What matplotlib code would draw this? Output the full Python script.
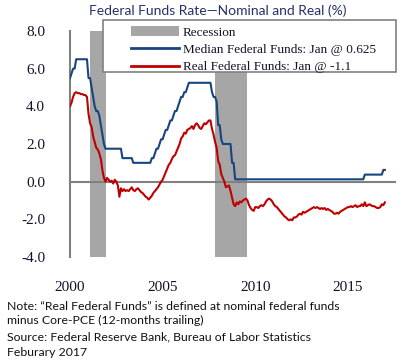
import numpy as np
import matplotlib
matplotlib.use("Agg")
import matplotlib.pyplot as plt
from matplotlib.patches import Patch, Rectangle
from matplotlib.lines import Line2D

# monthly data, Jan 2000 .. Jan 2017
start_year = 2000
median_ff = (
    [5.5, 5.75, 6.0, 6.0, 6.5, 6.5, 6.5, 6.5, 6.5, 6.5, 6.5, 6.5] +
    [5.5, 5.5, 5.0, 4.5, 4.0, 3.75, 3.75, 3.5, 3.0, 2.5, 2.0, 1.75] +
    [1.75] * 10 + [1.25, 1.25] +
    [1.25] * 5 + [1.0] * 7 +
    [1.0] * 5 + [1.25, 1.25, 1.5, 1.75, 1.75, 2.0, 2.25] +
    [2.25, 2.5, 2.75, 2.75, 3.0, 3.25, 3.25, 3.5, 3.75, 3.75, 4.0, 4.25] +
    [4.5, 4.5, 4.75, 4.75, 5.0, 5.25] + [5.25] * 6 +
    [5.25] * 8 + [4.75, 4.5, 4.5, 4.25] +
    [3.0, 3.0, 2.25, 2.0, 2.0, 2.0, 2.0, 2.0, 2.0, 1.0, 1.0, 0.125] +
    [0.125] * 83 + [0.375] +
    [0.375] * 11 + [0.625] +
    [0.625]
)
real_ff = [
    4.0, 4.2, 4.5, 4.7, 4.75, 4.7, 4.7, 4.65, 4.65, 4.6, 4.6, 4.5,
    3.6, 3.1, 2.9, 2.4, 2.1, 1.8, 1.7, 1.5, 1.2, 0.6, 0.2, 0.0,
    0.2, 0.1, 0.0, 0.05, -0.1, 0.1, 0.0, -0.2, -0.8, -0.35, -0.5, -0.4,
    -0.5, -0.45, -0.5, -0.4, -0.3, -0.45, -0.5, -0.4, -0.35, -0.45, -0.55, -0.6,
    -0.7, -0.8, -0.85, -0.95, -0.85, -0.75, -0.6, -0.5, -0.4, -0.3, -0.15, 0.0,
    0.1, 0.3, 0.5, 0.7, 0.9, 1.0, 1.2, 1.35, 1.4, 1.6, 1.8, 2.0,
    2.3, 2.4, 2.6, 2.55, 2.75, 2.8, 2.85, 2.95, 2.8, 3.0, 3.1, 3.0,
    2.85, 2.8, 2.95, 3.1, 3.05, 3.15, 3.25, 3.25, 2.8, 2.5, 2.1, 1.8,
    1.1, 0.9, 0.4, 0.2, 0.0, -0.3, -0.25, -0.2, -0.5, -0.85, -1.2, -1.3,
    -1.1, -1.2, -1.05, -1.1, -1.0, -0.95, -0.9, -1.0, -1.25, -1.4, -1.5, -1.55,
    -1.35, -1.35, -1.4, -1.3, -1.25, -1.3, -1.2, -1.05, -0.95, -0.9, -0.95, -1.05,
    -1.2, -1.3, -1.35, -1.45, -1.55, -1.65, -1.75, -1.85, -1.9, -2.0, -2.05, -2.0,
    -2.05, -1.9, -1.9, -1.85, -1.75, -1.7, -1.75, -1.6, -1.65, -1.6, -1.55, -1.5,
    -1.45, -1.4, -1.35, -1.4, -1.35, -1.4, -1.45, -1.4, -1.45, -1.4, -1.5, -1.45,
    -1.5, -1.55, -1.6, -1.7, -1.7, -1.65, -1.7, -1.6, -1.55, -1.5, -1.45, -1.4,
    -1.35, -1.35, -1.3, -1.35, -1.3, -1.25, -1.35, -1.3, -1.3, -1.2, -1.3, -1.1,
    -1.3, -1.25, -1.2, -1.25, -1.3, -1.3, -1.35, -1.4, -1.4, -1.35, -1.2, -1.25,
    -1.1,
]
recessions = [(2001.1, 2001.95), (2007.84, 2009.57)]
yticks = [-4, -2, 0, 2, 4, 6, 8]
xticks = [2000, 2005, 2010, 2015]

dates = start_year + np.arange(len(real_ff)) / 12.0

navy = "#17457f"
red = "#c00000"
gray = "#a6a6a6"
axis_gray = "#808080"
serif = "Liberation Serif"
ink = "#12122a"

fig = plt.figure(figsize=(4.06, 3.64), dpi=100)
ax = fig.add_axes([70 / 406, 1 - 257 / 364, 326 / 406, 226 / 364])

for a, b in recessions:
    ax.axvspan(a, b, color=gray, lw=0, zorder=1)
ax.axhline(0, color=axis_gray, lw=1.5, zorder=2)
ax.plot(dates, median_ff, color=navy, lw=1.5, zorder=3)
ax.plot(dates, real_ff, color=red, lw=1.5, zorder=3)

ax.set_xlim(2000, 2017.6)
ax.set_ylim(-4, 8)
ax.set_yticks(yticks, ["%.1f" % v for v in yticks])
ax.set_xticks(xticks, [str(v) for v in xticks])
ax.tick_params(labelfontfamily=serif, labelsize=11, labelcolor=ink, length=0)
ax.tick_params(axis="y", pad=18)
ax.tick_params(axis="x", pad=17)
for s in ["top", "right", "bottom"]:
    ax.spines[s].set_visible(False)
ax.spines["left"].set_color(axis_gray)
ax.spines["left"].set_linewidth(1.5)

# legend box
fig.patches.append(Rectangle((103 / 406, 1 - 72 / 364), 293 / 406, 52 / 364,
                             transform=fig.transFigure, facecolor="white",
                             edgecolor=axis_gray, lw=1.2, zorder=5))
handles = [Patch(facecolor=gray, edgecolor="none"),
           Line2D([], [], color=navy, lw=2),
           Line2D([], [], color=red, lw=2)]
labels = ["Recession", "Median Federal Funds: Jan @ 0.625", "Real Federal Funds: Jan @ -1.1"]
leg = fig.legend(handles, labels, loc="upper left",
                 bbox_to_anchor=(122 / 406, 1 - 17 / 364), frameon=False,
                 prop={"family": serif, "size": 9.5}, handlelength=3.6,
                 handleheight=0.8, handletextpad=0.3, labelspacing=0.35,
                 borderpad=0.2)
for t in leg.get_texts():
    t.set_color(ink)
leg.set_zorder(6)

fig.text(218 / 406, 1 - 11 / 364, "Federal Funds Rate\u2014Nominal and Real (%)",
         ha="center", va="center", fontsize=10, color="#27306b", family="Lato")

notes = [
    (306, "Note: \u201cReal Federal Funds\u201d is defined at nominal federal funds"),
    (320, "minus Core-PCE (12-months trailing)"),
    (337, "Source: Federal Reserve Bank, Bureau of Labor Statistics"),
    (352, "Feburary 2017"),
]
for y, s in notes:
    fig.text(7 / 406, 1 - y / 364, s, ha="left", va="center", fontsize=8.8,
             color="#111111", family="Lato")

fig.savefig("out.png", dpi=100)
